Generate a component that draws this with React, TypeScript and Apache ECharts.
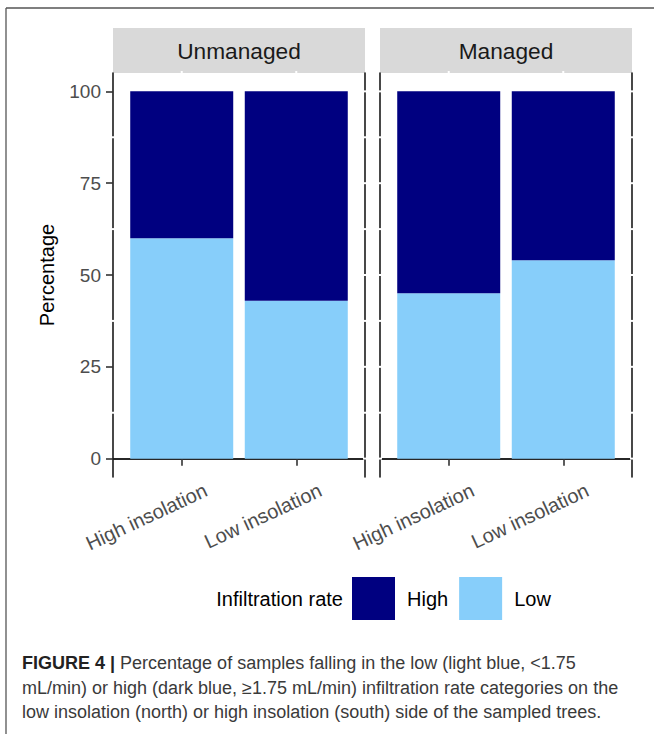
import React, { useEffect, useRef } from 'react';
import * as echarts from 'echarts';

// ---- data ----
const categories = ['High insolation', 'Low insolation'];
const facets = ['Unmanaged', 'Managed'];
const unmanagedLow = [60, 43];
const unmanagedHigh = [40, 57];
const managedLow = [45, 54];
const managedHigh = [55, 46];
const yTicks = [0, 25, 50, 75, 100];
const yMinor = [12.5, 37.5, 62.5, 87.5];
const rateLevels = ['High', 'Low'];
const legendTitle = 'Infiltration rate';
const yTitle = 'Percentage';
const captionLines = [
  '{b|FIGURE 4 |} Percentage of samples falling in the low (light blue, <1.75',
  'mL/min) or high (dark blue, \u22651.75 mL/min) infiltration rate categories on the',
  'low insolation (north) or high insolation (south) side of the sampled trees.',
];

const COLORS: Record<string, string> = { High: '#000080', Low: '#87CEFA' };
const FONT = "'Liberation Sans', Arial, Helvetica, sans-serif";
const CAPFONT = "'Liberation Sans Narrow', 'Liberation Sans', Arial, sans-serif";
const LINE = '#1a1a1a';

const PANEL_TOP = 73;
const PANEL_H = 404;
const PANEL_W = 252;
const PANEL_LEFT = [113, 380];
const STRIP_TOP = 28;

const panelData = [
  { low: unmanagedLow, high: unmanagedHigh },
  { low: managedLow, high: managedHigh },
];

const gapSpecs = [
  ...[...yTicks, ...yMinor].map((v) => ({ dir: 'h', v })),
  ...categories.map((_, i) => ({ dir: 'v', v: i + 1 })),
];

export default function App() {
  const ref = useRef<HTMLDivElement>(null);
  useEffect(() => {
    const chart = echarts.init(ref.current!, null, { renderer: 'svg' });

    const grids = PANEL_LEFT.map((left) => ({
      left,
      top: PANEL_TOP,
      width: PANEL_W,
      height: PANEL_H,
      containLabel: false,
    }));

    const axisLine = { show: true, lineStyle: { color: LINE, width: 1.6 } };

    const xAxes: any[] = [];
    PANEL_LEFT.forEach((_, p) => {
      xAxes.push({
        type: 'value',
        gridIndex: p,
        min: 0.4,
        max: 2.6,
        position: 'bottom',
        axisLine,
        axisTick: { show: true, customValues: [1, 2], length: 7, lineStyle: { color: '#333', width: 1.6 } },
        axisLabel: {
          customValues: [1.21, 2.21],
          formatter: (v: number) => categories[Math.round(v) - 1],
          rotate: 25,
          margin: 12,
          fontSize: 20,
          color: '#4d4d4d',
          fontFamily: FONT,
        },
        splitLine: { show: false },
      });
    });
    PANEL_LEFT.forEach((_, p) => {
      xAxes.push({
        type: 'value',
        gridIndex: p,
        min: 0.4,
        max: 2.6,
        position: 'top',
        axisLine,
        axisTick: { show: false },
        axisLabel: { show: false },
        splitLine: { show: false },
      });
    });

    const yAxes: any[] = [];
    PANEL_LEFT.forEach((_, p) => {
      yAxes.push({
        type: 'value',
        gridIndex: p,
        min: -5,
        max: 105,
        position: 'left',
        axisLine,
        axisTick: { show: p === 0, customValues: yTicks, length: 7, lineStyle: { color: '#333', width: 1.6 } },
        axisLabel: {
          show: p === 0,
          customValues: yTicks,
          margin: 12,
          fontSize: 19,
          color: '#4d4d4d',
          fontFamily: FONT,
        },
        splitLine: { show: false },
        name: p === 0 ? yTitle : '',
        nameLocation: 'middle',
        nameGap: 56,
        nameTextStyle: { fontSize: 20, color: '#000', fontFamily: FONT },
      });
    });
    PANEL_LEFT.forEach((_, p) => {
      yAxes.push({
        type: 'value',
        gridIndex: p,
        min: -5,
        max: 105,
        position: 'right',
        axisLine,
        axisTick: { show: false },
        axisLabel: { show: false },
        splitLine: { show: false },
      });
    });

    const series: any[] = [];
    panelData.forEach((pd, p) => {
      series.push({
        name: 'Low',
        type: 'bar',
        xAxisIndex: p,
        yAxisIndex: p,
        stack: 'panel' + p,
        barWidth: 103,
        encode: { x: 1, y: 0 },
        data: pd.low.map((v, i) => [v, i + 1]),
        itemStyle: { color: COLORS.Low },
      });
      series.push({
        name: 'High',
        type: 'bar',
        xAxisIndex: p,
        yAxisIndex: p,
        stack: 'panel' + p,
        barWidth: 103,
        encode: { x: 1, y: 0 },
        data: pd.high.map((v, i) => [v, i + 1]),
        itemStyle: { color: COLORS.High },
      });
      series.push({
        type: 'custom',
        xAxisIndex: p,
        yAxisIndex: p,
        z: 5,
        silent: true,
        clip: false,
        data: gapSpecs.map((g) => (g.dir === 'h' ? [1, g.v] : [g.v, 50])),
        renderItem: (params: any, api: any) => {
          const g = gapSpecs[params.dataIndex];
          const cs = params.coordSys;
          const pt = api.coord([api.value(0), api.value(1)]);
          const st = { stroke: '#fff', lineWidth: 2 };
          const children: any[] = [];
          if (g.dir === 'h') {
            const major = yTicks.includes(g.v);
            if (!(p === 0 && major)) {
              children.push({ type: 'line', shape: { x1: cs.x - 2, y1: pt[1], x2: cs.x + 2, y2: pt[1] }, style: st });
            }
            children.push({
              type: 'line',
              shape: { x1: cs.x + cs.width - 2, y1: pt[1], x2: cs.x + cs.width + 2, y2: pt[1] },
              style: st,
            });
          } else {
            children.push({ type: 'line', shape: { x1: pt[0], y1: cs.y - 2, x2: pt[0], y2: cs.y + 2 }, style: st });
            children.push({
              type: 'line',
              shape: { x1: pt[0], y1: cs.y + cs.height - 2, x2: pt[0], y2: cs.y + cs.height + 1 },
              style: st,
            });
          }
          return { type: 'group', children };
        },
      });
    });

    const graphic: any[] = [
      { type: 'line', shape: { x1: 6, y1: 8, x2: 654, y2: 8 }, style: { stroke: '#555', lineWidth: 1.3 } },
      { type: 'line', shape: { x1: 6, y1: 8, x2: 6, y2: 734 }, style: { stroke: '#555', lineWidth: 1.3 } },
    ];
    facets.forEach((f, p) => {
      graphic.push({
        type: 'rect',
        shape: { x: PANEL_LEFT[p], y: STRIP_TOP, width: PANEL_W, height: PANEL_TOP - STRIP_TOP },
        style: { fill: '#d9d9d9' },
        z: -1,
      });
      graphic.push({
        type: 'text',
        x: PANEL_LEFT[p] + PANEL_W / 2,
        y: (STRIP_TOP + PANEL_TOP) / 2,
        style: {
          text: f,
          fontSize: 22.7,
          fill: '#1a1a1a',
          fontFamily: FONT,
          align: 'center',
          verticalAlign: 'middle',
        },
      });
    });
    graphic.push({
      type: 'text',
      x: 343,
      y: 599,
      style: { text: legendTitle, fontSize: 20, fill: '#000', fontFamily: FONT, align: 'right', verticalAlign: 'middle' },
    });
    captionLines.forEach((t, i) => {
      graphic.push({
        type: 'text',
        x: 22,
        y: 663 + i * 24.5,
        style: {
          text: t,
          fontSize: 18,
          fill: '#3a3a3a',
          fontFamily: CAPFONT,
          align: 'left',
          verticalAlign: 'middle',
          rich: {
            b: { fontSize: 18, fontWeight: 'bold', fill: '#222', fontFamily: CAPFONT },
          },
        },
      });
    });

    chart.setOption({
      animation: false,
      backgroundColor: '#fff',
      grid: grids,
      xAxis: xAxes,
      yAxis: yAxes,
      legend: {
        data: rateLevels,
        left: 352,
        top: 577,
        padding: 0,
        itemWidth: 43,
        itemHeight: 43,
        itemGap: 11,
        icon: 'rect',
        selectedMode: false,
        textStyle: { fontSize: 20, color: '#000', fontFamily: FONT, padding: [0, 0, 0, 7] },
      },
      series,
      graphic,
    });
    return () => chart.dispose();
  }, []);
  return (
    <div style={{ position: 'absolute', left: 0, top: 0, width: 654, height: 734, background: '#fff' }}>
      <div ref={ref} style={{ width: 654, height: 734 }} />
    </div>
  );
}
